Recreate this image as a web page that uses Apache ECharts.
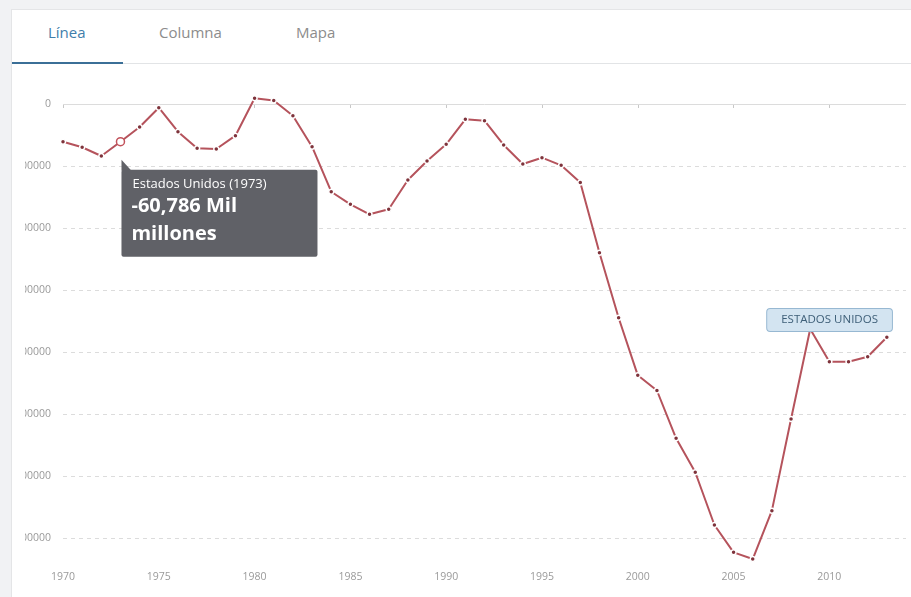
<!DOCTYPE html>
<html>
<head>
<meta charset="utf-8">
<script src="https://cdn.jsdelivr.net/npm/echarts@6/dist/echarts.min.js"></script>
<style>
  html, body { margin:0; padding:0; }
  body { width:911px; height:597px; overflow:hidden; position:relative; background:#f1f2f4; font-family:'Open Sans', 'Noto Sans', sans-serif; }
  #panel { position:absolute; left:11px; top:9px; width:910px; height:600px; background:#fff; border-left:1px solid #e4e5e7; border-top:1px solid #e4e5e7; }
  .tab { position:absolute; top:22px; font-size:15px; color:#8c8c8c; }
  #tabLine { position:absolute; left:12px; top:63px; width:899px; height:1px; background:#e2e4e6; }
  #tabActive { position:absolute; left:12px; top:62px; width:111px; height:2px; background:#3b6f97; }
  #clip { position:absolute; left:25px; top:64px; width:886px; height:533px; overflow:hidden; }
  #chart { position:absolute; left:-25px; top:-64px; width:911px; height:597px; }
</style>
</head>
<body>
<div id="panel"></div>
<div class="tab" style="left:48px;color:#3f7eab;">Línea</div>
<div class="tab" style="left:159px;">Columna</div>
<div class="tab" style="left:296px;">Mapa</div>
<div id="tabLine"></div>
<div id="tabActive"></div>
<div id="clip"><div id="chart"></div></div>
<script>
// Data (millions of US$)
const years = [1970,1971,1972,1973,1974,1975,1976,1977,1978,1979,
               1980,1981,1982,1983,1984,1985,1986,1987,1988,1989,
               1990,1991,1992,1993,1994,1995,1996,1997,1998,1999,
               2000,2001,2002,2003,2004,2005,2006,2007,2008,2009,
               2010,2011,2012,2013];
const values = [-60800,-69800,-83900,-60786,-37100,-6000,-44700,-71500,-72600,-51100,
                9200,5600,-18900,-68900,-141500,-161800,-177900,-169800,-122600,-91900,
                -65000,-24700,-26900,-66100,-96800,-86600,-98900,-126600,-239800,-344700,
                -437600,-462100,-539200,-594000,-679000,-723100,-733900,-655900,-508100,-362900,
                -415600,-415600,-407600,-376300];
const xTicks = [1970,1975,1980,1985,1990,1995,2000,2005,2010];
const yTicks = [0,-100000,-200000,-300000,-400000,-500000,-600000,-700000];
const seriesName = 'Estados Unidos';
const seriesLabel = 'ESTADOS UNIDOS';
const tooltipYear = 1973;
const labelYear = 2009;

const chart = echarts.init(document.getElementById('chart'), null, {renderer:'canvas'});

const lineData = years.map((y, i) => {
  if (y === tooltipYear) {
    return { value:[y, values[i]], symbolSize:8,
      itemStyle:{ color:'#ffffff', borderColor:'#c2525b', borderWidth:1.5 } };
  }
  return [y, values[i]];
});

chart.setOption({
  animation:false,
  grid:{ left:63, right:5, top:104, bottom:59 },
  xAxis:{
    type:'value', min:1970, max:2014, interval:5,
    offset:15,
    axisLine:{ show:false },
    axisTick:{ show:true, length:4, lineStyle:{ color:'#c8c8c8' } },
    splitLine:{ show:false },
    axisLabel:{ color:'#9a9a9a', fontSize:10.5, margin:19, showMaxLabel:false,
      fontFamily:'Open Sans',
      formatter: v => xTicks.indexOf(v) >= 0 ? String(v) : '' }
  },
  yAxis:{
    type:'value', min:-700000, max:0, interval:100000,
    axisLine:{ show:false }, axisTick:{ show:false },
    splitLine:{ show:true, lineStyle:{ color:'#dcdcdc', type:[4,4], width:1 } },
    axisLabel:{ color:'#9a9a9a', fontSize:10.5, margin:12, fontFamily:'Open Sans',
      formatter: v => yTicks.indexOf(v) >= 0 ? String(v) : '' }
  },
  series:[{
    name:seriesName, type:'line', clip:false,
    data:lineData,
    symbol:'circle', symbolSize:5, showSymbol:true,
    itemStyle:{ color:'#7e333b', borderColor:'#ffffff', borderWidth:1.5 },
    lineStyle:{ color:'#b5535c', width:2 },
    z:3,
    markLine:{
      silent:true, symbol:'none', label:{ show:false },
      lineStyle:{ color:'#dcdcdc', type:'solid', width:1 },
      data:[{ yAxis:0 }], z:1
    }
  }]
});

const ti = years.indexOf(tooltipYear);
const p = chart.convertToPixel({gridIndex:0}, [tooltipYear, values[ti]]);
const li = years.indexOf(labelYear);
const q = chart.convertToPixel({gridIndex:0}, [labelYear, values[li]]);
const fmt = v => (v/1000).toFixed(3).replace('.', ',');
const bx = p[0] + 1, by = p[1] + 28;

chart.setOption({
  graphic:[
    { type:'group', x:bx, y:by, z:100, children:[
      { type:'polygon', shape:{ points:[[0,1],[0,-10],[10,1]] }, style:{ fill:'#606167' } },
      { type:'rect', shape:{ x:0, y:0, width:196, height:87, r:2 }, style:{ fill:'#606167' } },
      { type:'text', x:11, y:8, style:{ text:seriesName + ' (' + tooltipYear + ')', fill:'#ffffff',
        font:'13px "Open Sans"' } },
      { type:'text', x:10, y:27, style:{ text:fmt(values[ti]) + ' Mil', fill:'#ffffff',
        font:'bold 20px "Open Sans"' } },
      { type:'text', x:10, y:55, style:{ text:'millones', fill:'#ffffff',
        font:'bold 20px "Open Sans"' } }
    ]},
    { type:'text', x:q[0] - 43, y:q[1] - 20, z:100,
      style:{ text:seriesLabel, fill:'#3e5f78', font:'11.5px "Open Sans"',
        backgroundColor:'#d3e4f1', borderColor:'#97b8d2', borderWidth:1, borderRadius:3,
        padding:[5,14,5,14] } }
  ]
});
</script>
</body>
</html>
